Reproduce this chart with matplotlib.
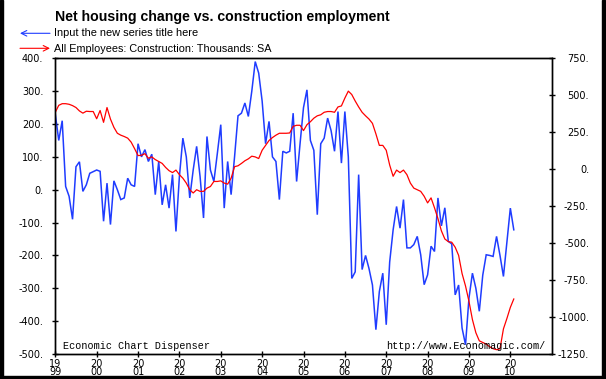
import numpy as np
import matplotlib
matplotlib.use("Agg")
import matplotlib.pyplot as plt
from matplotlib.patches import Rectangle

# ---------------- data ----------------
title = "Net housing change vs. construction employment"
series1_name = "Input the new series title here"
series2_name = "All Employees: Construction: Thousands: SA"

# monthly, Jan 1999 .. Feb 2010 (left axis)
housing = [
    230, 150, 210, 10, -20, -90, 70, 85, -5, 15, 50, 55,
    60, 56, -96, 20, -106, 27, 0, -30, -25, 35, 15, 10,
    140, 100, 122, 86, 108, -15, 86, -46, 15, -56, 46, -127,
    40, 157, 100, -25, 60, 132, 40, -86, 162, 60, 25, 110,
    198, -56, 86, -15, 100, 225, 233, 264, 223, 300, 390, 355,
    270, 140, 208, 100, 86, -30, 117, 112, 117, 233, 25, 140,
    250, 304, 150, 120, -76, 140, 157, 218, 180, 117, 238, 81,
    238, 100, -270, -250, 46, -243, -200, -240, -290, -426, -310, -254,
    -411, -220, -122, -51, -117, -30, -177, -177, -167, -142, -198, -289,
    -259, -172, -188, -25, -110, -55, -157, -165, -320, -290, -421, -472,
    -330, -254, -300, -370, -260, -198, -200, -203, -142, -200, -264, -160,
    -56, -122,
]

# monthly, Jan 1999 .. Feb 2010 (right axis)
construction = [
    385, 432, 443, 443, 439, 430, 417, 394, 379, 392, 390, 390,
    341, 397, 317, 417, 339, 283, 243, 230, 221, 210, 183, 139,
    92, 94, 105, 74, 83, 65, 52, 39, 12, -10, -23, -6,
    -37, -61, -94, -139, -161, -139, -150, -150, -128, -117, -83, -83,
    -79, -94, -101, -61, 17, 23, 39, 57, 70, 88, 83, 72,
    128, 161, 194, 214, 230, 243, 243, 243, 245, 290, 297, 297,
    261, 301, 321, 345, 361, 368, 385, 390, 390, 385, 421, 428,
    481, 528, 505, 461, 421, 385, 361, 339, 310, 239, 161, 161,
    128, 28, -48, -6, -23, -6, -37, -94, -128, -139, -150, -183,
    -228, -194, -261, -334, -417, -472, -490, -494, -528, -583, -706, -790,
    -894, -1017, -1106, -1161, -1172, -1183, -1201, -1214, -1221, -1215, -1080, -1010,
    -935, -878,
]

year_ticks = [0, 12, 24, 36, 48, 60, 72, 84, 96, 108, 120, 132]
year_labels = ["19\n99", "20\n00", "20\n01", "20\n02", "20\n03", "20\n04",
               "20\n05", "20\n06", "20\n07", "20\n08", "20\n09", "20\n10"]
left_ticks = [400, 300, 200, 100, 0, -100, -200, -300, -400, -500]
left_labels = ["400.", "300.", "200.", "100.", "0.", "-100.", "-200.", "-300.", "-400.", "-500."]
right_ticks = [750, 500, 250, 0, -250, -500, -750, -1000, -1250]
right_labels = ["750.", "500.", "250.", "0.", "-250.", "-500.", "-750.", "-1000.", "-1250."]

# ---------------- style ----------------
W, H = 606, 379
BLUE = "#1f3cff"
RED = "#ff0000"
plt.rcParams["font.family"] = ["DejaVu Sans"]

fig = plt.figure(figsize=(W / 100, H / 100), dpi=100)
fig.patch.set_facecolor("white")

L, R, T, B = 55.3, 551.7, 58.3, 354.0
ax = fig.add_axes([L / W, 1 - B / H, (R - L) / W, (B - T) / H])

x = np.arange(len(housing))
ax.plot(x, housing, color=BLUE, lw=1.1, solid_joinstyle="miter")
ax.set_xlim(0, 144)
ax.set_ylim(-500, 400)
ax.set_yticks(left_ticks)
ax.set_yticklabels(left_labels)
ax.set_xticks(year_ticks)
ax.set_xticklabels(year_labels, linespacing=0.8)

ax2 = ax.twinx()
ax2.plot(np.arange(len(construction)), construction, color=RED, lw=0.9)
ax2.set_ylim(-1250, 750)
ax2.set_yticks(right_ticks)
ax2.set_yticklabels(right_labels)

for a in (ax, ax2):
    for s in a.spines.values():
        s.set_linewidth(1.0)
        s.set_color("black")

ax.tick_params(axis="y", direction="inout", length=4, width=1.0, labelsize=7, pad=6.6)
ax.tick_params(axis="x", direction="inout", length=4, width=1.0, labelsize=7, pad=1.6)
ax2.tick_params(axis="y", direction="inout", length=4, width=1.0, labelsize=7, pad=24.9)
for lab in ax2.get_yticklabels():
    lab.set_horizontalalignment("right")

# ---------------- texts ----------------
fig.text(55 / W, 1 - 20.7 / H, title, fontsize=10.2, fontweight="bold",
         family="Liberation Sans", va="baseline", ha="left")
fig.text(54 / W, 1 - 36 / H, series1_name, fontsize=7.9, family="Liberation Sans",
         va="baseline", ha="left")
fig.text(54 / W, 1 - 51.5 / H, series2_name, fontsize=7.8, family="Liberation Sans",
         va="baseline", ha="left")

ax.annotate("", xy=(20, H - 33.3), xytext=(50, H - 33.3), xycoords="figure pixels",
            textcoords="figure pixels",
            arrowprops=dict(arrowstyle="->", color=BLUE, lw=0.8, shrinkA=0, shrinkB=0,
                            mutation_scale=10))
ax.annotate("", xy=(50, H - 48.3), xytext=(20, H - 48.3), xycoords="figure pixels",
            textcoords="figure pixels",
            arrowprops=dict(arrowstyle="->", color=RED, lw=0.8, shrinkA=0, shrinkB=0,
                            mutation_scale=10))

fig.text(62.7 / W, 1 - 349 / H, "Economic Chart Dispenser", fontsize=7.3,
         family="Liberation Mono", va="baseline", ha="left")
fig.text(545.7 / W, 1 - 349 / H, "http://www.Economagic.com/", fontsize=7.3,
         family="Liberation Mono", va="baseline", ha="right")

# figure frame (left, right, bottom)
fig.patches.append(Rectangle((0, 0), 3 / W, 1, transform=fig.transFigure,
                             color="black", zorder=10))
fig.patches.append(Rectangle((602 / W, 0), 2.5 / W, 1, transform=fig.transFigure,
                             color="black", zorder=10))
fig.patches.append(Rectangle((0, 1 / H), 604.5 / W, 2.5 / H, transform=fig.transFigure,
                             color="black", zorder=10))

fig.savefig("out.png", dpi=100)
